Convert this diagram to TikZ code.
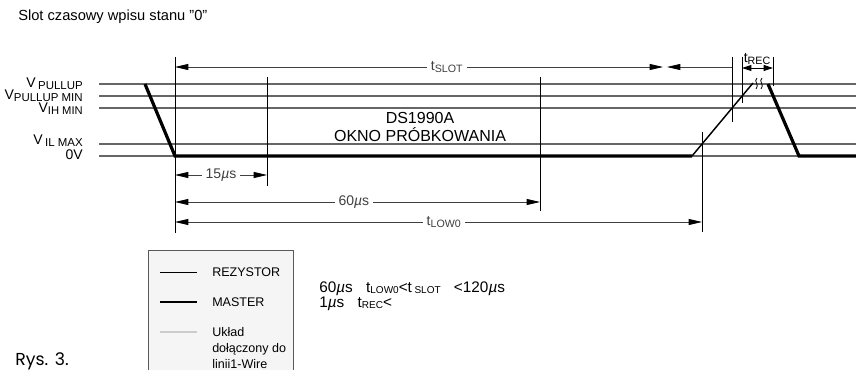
\documentclass[tikz,border=0pt]{standalone}
\usepackage{fontspec}
\setmainfont{Liberation Sans}
\newfontfamily\rysfont{Poppins}
\usetikzlibrary{arrows.meta}
\newcommand{\lsub}[2][8]{\raisebox{-1.3pt}{\fontsize{#1}{9}\selectfont #2}}
\newcommand{\mus}{\textit{µ}s}
\tikzset{
  level/.style={black!60, line width=0.9pt},
  master/.style={line width=2.4pt},
  rezystor/.style={line width=1.1pt},
  tick/.style={line width=0.6pt},
  dimhead/.tip={Triangle[length=10pt,width=4.5pt]},
  dim/.style={black!75, line width=0.6pt, {dimhead[black]}-{dimhead[black]}},
  lbl/.style={inner sep=0.75pt, inner xsep=3pt, fill=white},
}

\begin{document}
\begin{tikzpicture}[x=0.75pt,y=0.75pt,yscale=-1,xscale=1,font=\fontsize{10.5}{12}\selectfont]
\useasboundingbox (0,0) rectangle (856,370);
% Text Node
\node [anchor=base west] [inner sep=0.75pt, font=\fontsize{11}{12}\selectfont] (title) at (17,21) {Slot czasowy wpisu stanu \symbol{34}0\symbol{34}};
\draw[level]    (99,84) -- (856,84) ;
\draw[level]    (99,96) -- (856,96) ;
\draw[level]    (99,108) -- (856,108) ;
\draw[level]    (99,144) -- (856,144) ;
\draw[level]    (99,156) -- (856,156) ;
% Text Node
\node [anchor=base east] [inner sep=0pt] (vpu) at (83,88) {V\,\lsub[8.6]{PULLUP}};
% Text Node
\node [anchor=base east] [inner sep=0pt] (vpumin) at (83,99.5) {V\lsub[8.6]{PULLUP MIN}};
% Text Node
\node [anchor=base east] [inner sep=0pt] (vihmin) at (83,113) {V\lsub[8.4]{IH MIN}};
% Text Node
\node [anchor=base east] [inner sep=0pt] (vilmax) at (83,145) {V\,\lsub[8.6]{IL MAX}};
% Text Node
\node [anchor=base east] [inner sep=0pt] (zerov) at (83,160) {0V};
\draw[tick]    (175,57) -- (175,233) ;
\draw[tick]    (267,77) -- (267,186) ;
\draw[tick]    (540,77) -- (540,211) ;
\draw[tick]    (702,132) -- (702,232) ;
\draw[tick]    (732,57) -- (732,122) ;
\draw[tick]    (742,57) -- (742,103) ;
\draw[tick]    (773,57) -- (773,86) ;
\draw[master]    (145,84) -- (175,156) -- (692,156) ;
\draw[rezystor]    (692,156) -- (753,83) ;
\draw[tick]    (757,78) .. controls (753,81) and (760,85) .. (756,89) ;
\draw[tick]    (762,78) .. controls (758,81) and (765,85) .. (761,89) ;
\draw[master]    (768,84) -- (799,156) -- (856,156) ;
\draw[dim]    (175,67) -- node [lbl, pos=0.557] (tslot) {t\lsub{SLOT}} (663,67) ;
\draw[black!75, line width=0.6pt, -{dimhead[black]}]    (732,67) -- (667,67) ;
\draw[black, line width=0.6pt, {Triangle[length=7pt,width=4.5pt]}-{Triangle[length=7pt,width=4.5pt]}]    (742,68) -- (773,68) ;
% Text Node
\node [anchor=base] [inner sep=0.75pt] (trec) at (757,63) {t\lsub{REC}};
% Text Node
\node [align=center] [inner sep=0.75pt, font=\fontsize{12}{13.5}\selectfont] (okno) at (420,127) {DS1990A\\OKNO PRÓBKOWANIA};
\draw[dim]    (175,175) -- node [lbl] (d15) {15\mus} (267,175) ;
\draw[dim]    (175,202) -- node [lbl, pos=0.49] (d60) {60\mus} (540,202) ;
\draw[dim]    (175,222) -- node [lbl, pos=0.51] (tlow) {t\lsub{LOW0}} (702,222) ;
\draw[draw=black!65, fill=black!4, line width=0.6pt]    (148,372) -- (148,250) -- (293,250) -- (293,372) ;
\draw[line width=0.7pt]    (160,272) -- (197,272) ;
\draw[line width=1.8pt]    (160,302) -- (197,302) ;
\draw[black!20, line width=1.8pt]    (160,332) -- (197,332) ;
% Text Node
\node [anchor=west] [inner sep=0.75pt, font=\fontsize{9.4}{12}\selectfont] (lrez) at (211,272) {REZYSTOR};
% Text Node
\node [anchor=west] [inner sep=0.75pt, font=\fontsize{9.4}{12}\selectfont] (lmas) at (211,302) {MASTER};
% Text Node
\node [anchor=north west, align=left] [inner sep=0.75pt, font=\fontsize{9.4}{12}\selectfont] (luk) at (211,326) {Układ\\dołączony do\\linii1-Wire};
% Text Node
\node [anchor=base west] [inner sep=0.75pt, font=\fontsize{11.5}{13}\selectfont] (cond1) at (318,292) {60\mus\hspace{10pt}t\lsub[7.5]{LOW0}<t\,\lsub[7.5]{SLOT}\hspace{10pt}<120\mus};
% Text Node
\node [anchor=base west] [inner sep=0.75pt, font=\fontsize{11.5}{13}\selectfont] (cond2) at (318,307) {1\mus\hspace{10pt}t\lsub[7.5]{REC}<};
% Text Node
\node [anchor=base west] [inner sep=0.75pt] (rys) at (14,365) {\rysfont\fontsize{13}{14}\selectfont Rys.\hspace{5pt}3.};
\end{tikzpicture}
\end{document}
